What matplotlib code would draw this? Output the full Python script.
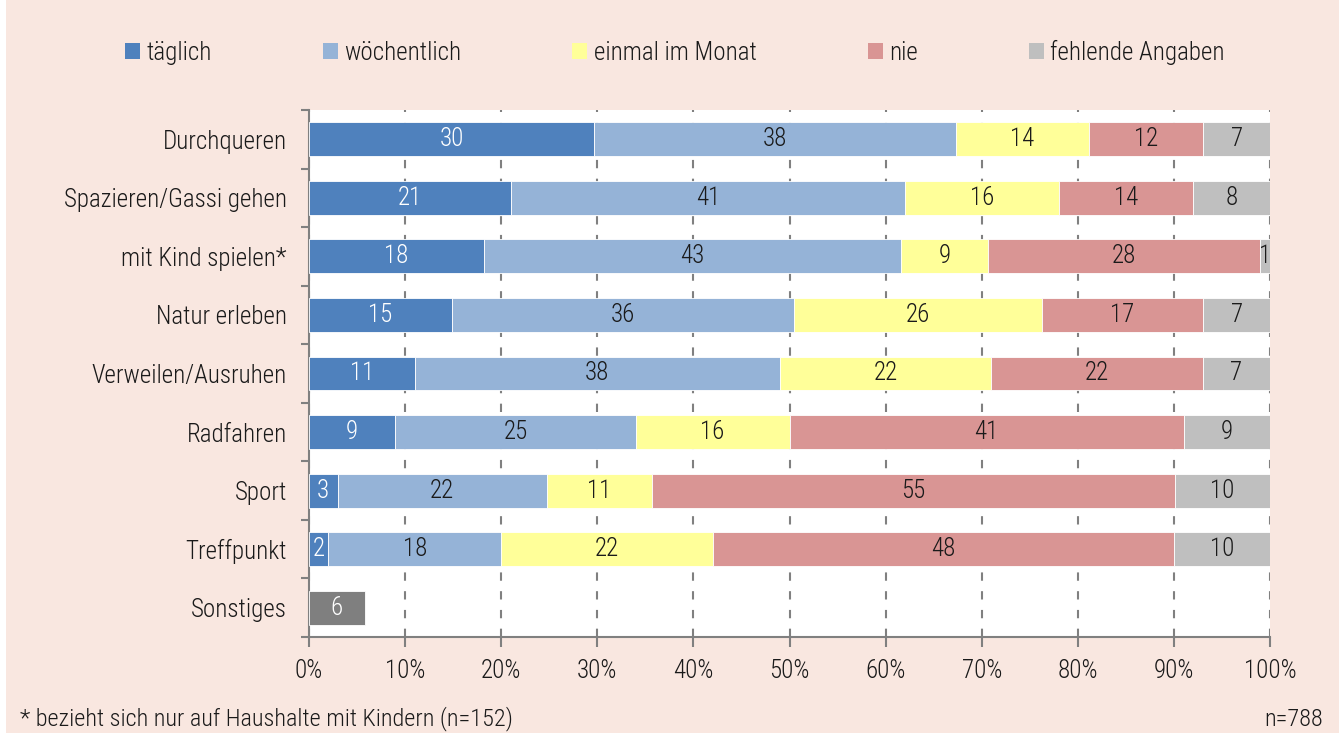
import numpy as np
import matplotlib.pyplot as plt
from matplotlib.patches import Patch, Rectangle

plt.rcParams['font.family'] = ['Roboto Condensed', 'Liberation Sans Narrow', 'DejaVu Sans']
plt.rcParams['font.weight'] = 'light'

# Daten (Angaben in %)
categories = ["Durchqueren", "Spazieren/Gassi gehen", "mit Kind spielen*", "Natur erleben",
              "Verweilen/Ausruhen", "Radfahren", "Sport", "Treffpunkt"]
series_names = ["täglich", "wöchentlich", "einmal im Monat", "nie", "fehlende Angaben"]
taeglich = [30, 21, 18, 15, 11, 9, 3, 2]
woechentlich = [38, 41, 43, 36, 38, 25, 22, 18]
monatlich = [14, 16, 9, 26, 22, 16, 11, 22]
nie = [12, 14, 28, 17, 22, 41, 55, 48]
fehlend = [7, 8, 1, 7, 7, 9, 10, 10]
sonstiges_label = "Sonstiges"
sonstiges_value = 5.8
x_ticks = [0, 10, 20, 30, 40, 50, 60, 70, 80, 90, 100]

colors = ["#4F81BD", "#95B3D7", "#FFFF99", "#D99594", "#BFBFBF"]
text_colors = ["white", "#1a1a1a", "#1a1a1a", "#1a1a1a", "#1a1a1a"]
bg = "#F9E7E0"
fs = 18

fig = plt.figure(figsize=(13.39, 7.33), dpi=100)
fig.patches.append(Rectangle((6 / 1339, 0), 1, 1, transform=fig.transFigure,
                             facecolor=bg, edgecolor="none", zorder=-10))

ax = fig.add_axes([309 / 1339, 1 - 637 / 733, (1270 - 309) / 1339, (637 - 110) / 733])

data = np.array([taeglich, woechentlich, monatlich, nie, fehlend], dtype=float)
shares = data / data.sum(axis=0) * 100
y = np.arange(len(categories))
h = 0.58

left = np.zeros(len(categories))
for i, name in enumerate(series_names):
    bars = ax.barh(y, shares[i], left=left, height=h, color=colors[i],
                   edgecolor="white", linewidth=0.6, zorder=3)
    for j, b in enumerate(bars):
        ax.text(b.get_x() + b.get_width() / 2, b.get_y() + b.get_height() / 2,
                f"{int(data[i, j])}", ha="center", va="center", fontsize=fs,
                color=text_colors[i], zorder=4)
    left += shares[i]

sb = ax.barh([len(categories)], [sonstiges_value], height=h, color="#7F7F7F",
             edgecolor="white", linewidth=0.6, zorder=3)[0]
ax.text(sb.get_x() + sb.get_width() / 2, sb.get_y() + sb.get_height() / 2,
        f"{round(sonstiges_value)}", ha="center", va="center", fontsize=fs,
        color="white", zorder=4)

all_labels = categories + [sonstiges_label]
ax.set_ylim(len(all_labels) - 0.5, -0.5)
ax.set_xlim(0, 100)
ax.set_yticks(np.arange(len(all_labels)))
ax.set_yticklabels(all_labels, fontsize=fs, color="#1a1a1a")
ax.set_yticks(np.arange(len(all_labels) + 1) - 0.5, minor=True)
ax.tick_params(axis="y", which="major", length=0, pad=16)
ax.tick_params(axis="y", which="minor", length=6, width=1.5, color="#808080")
ax.set_xticks(x_ticks)
ax.set_xticklabels([f"{t}%" for t in x_ticks], fontsize=fs, color="#1a1a1a")
ax.tick_params(axis="x", length=7, width=1.5, color="#808080", pad=9)

ax.grid(axis="x", color="#808080", linestyle=(0, (4, 5)), linewidth=1.5, zorder=0)
for s in ["top", "right"]:
    ax.spines[s].set_visible(False)
for s in ["left", "bottom"]:
    ax.spines[s].set_color("#808080")
    ax.spines[s].set_linewidth(1.5)

handles = [Patch(facecolor=c, edgecolor="none") for c in colors]
fig.legend(handles, series_names, loc="center", bbox_to_anchor=(0.504, 1 - 52 / 733),
           ncol=5, frameon=False, fontsize=fs, handlelength=0.6, handleheight=0.6,
           handletextpad=0.25, columnspacing=4.45, labelcolor="#1a1a1a")

fig.text(20 / 1339, 1 - 719 / 733, "* bezieht sich nur auf Haushalte mit Kindern (n=152)",
         fontsize=17.5, va="center", ha="left", color="#1a1a1a")
fig.text(1323 / 1339, 1 - 719 / 733, "n=788", fontsize=17.5, va="center", ha="right",
         color="#1a1a1a")

fig.savefig("out.png", dpi=100)
